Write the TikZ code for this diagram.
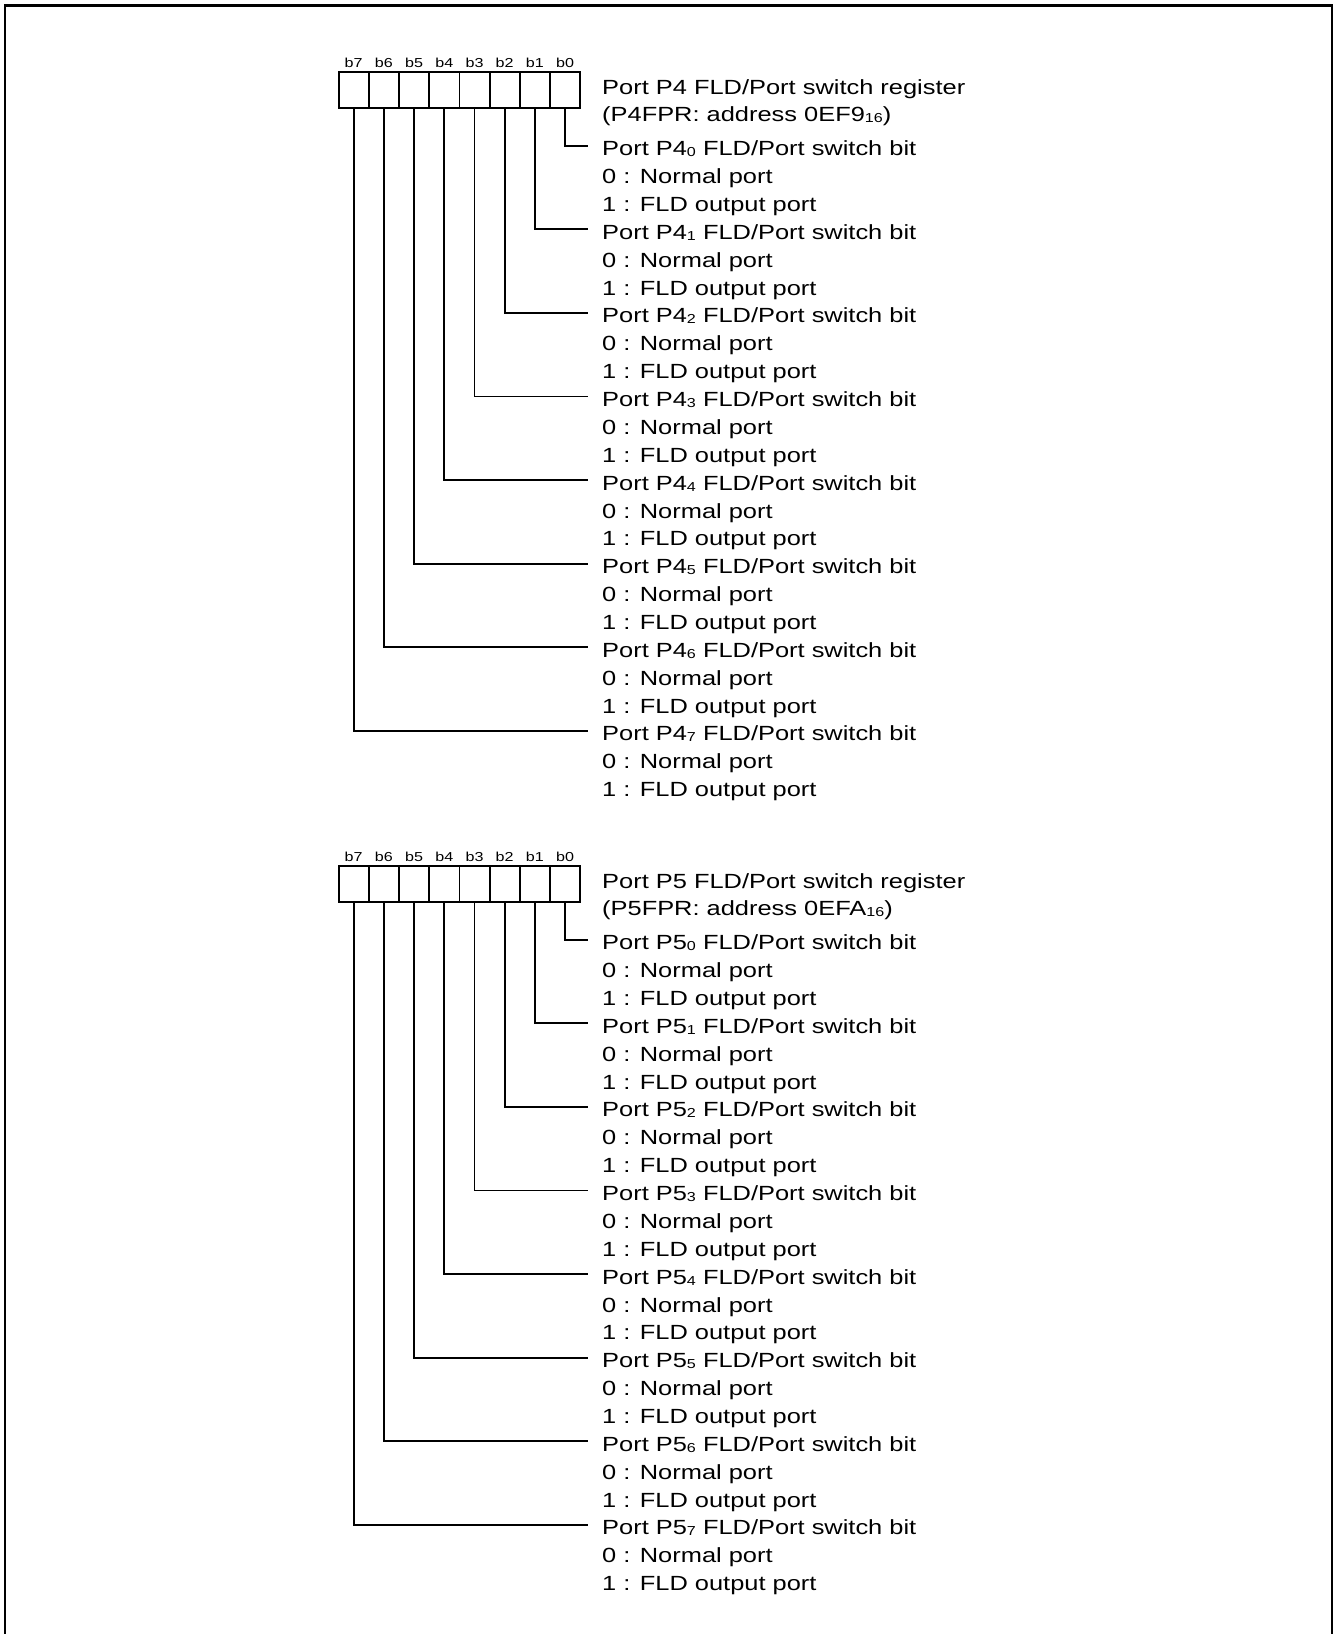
\documentclass[tikz,border=0pt]{standalone}
\usepackage{fontspec}
\setmainfont[FakeStretch=1.24]{Liberation Sans}
\usepackage{tikz}
\usetikzlibrary{
  positioning % 位标签相对定位
}
% 下标（P4_0、0EF9_16）
\newcommand{\sbit}[1]{\raisebox{-1pt}{\fontsize{13}{13}\selectfont #1}}
\tikzset{
  reg cell/.style={
    draw,
    line width=1.8pt,
    minimum width=30.2pt,
    minimum height=36.6pt,
    inner sep=0pt,
    outer sep=0pt
  },
  bit label/.style={
    font=\fontsize{13}{13}\selectfont,
    inner sep=0pt
  },
  reg text/.style={
    anchor=base west,
    inner sep=0pt,
    font=\fontsize{20.5}{24}\selectfont
  },
  bit head/.style={
    reg text,
    inner xsep=14pt,
    text height=20pt,
    text depth=0pt
  },
  bit line/.style={
    line width=1.8pt
  },
  frame line/.style={
    line width=2.5pt
  }
}

\begin{document}
\begin{tikzpicture}[x=1pt, y=-1pt]
    \useasboundingbox (0,0) rectangle (1335,1634);

    % 外框（下边被截去）
    \draw[frame line] (5,1634) -- (5,5.5) -- (1332,5.5) -- (1332,1634);

    % 1. P4FPR 寄存器
    \begin{scope}
      \node[reg text] (ta1) at (602, 94) {Port P4 FLD/Port switch register};
      \node[reg text] (ta2) at (602, 121) {(P4FPR: address 0EF9\sbit{16})};
      \foreach \i in {0,...,7} {
        \node[reg cell] (a\i) at ({565.1-30.2*\i}, 90) {};
        \node[bit label, above=4pt of a\i] (la\i) {b\i};
        \node[bit head] (ha\i) at (588, {155.7+83.6*\i})
          {Port P4\sbit{\i} FLD/Port switch bit};
        \node[reg text] (na\i) at (602, {183.6+83.6*\i}) {0 : Normal port};
        \node[reg text] (fa\i) at (602, {211.5+83.6*\i}) {1 : FLD output port};
        \draw[bit line] (a\i.south) |- (ha\i.west);
      }
    \end{scope}

    % 2. P5FPR 寄存器（向下平移）
    \begin{scope}[shift={(0,794)}]
      \node[reg text] (tb1) at (602, 94) {Port P5 FLD/Port switch register};
      \node[reg text] (tb2) at (602, 121) {(P5FPR: address 0EFA\sbit{16})};
      \foreach \i in {0,...,7} {
        \node[reg cell] (b\i) at ({565.1-30.2*\i}, 90) {};
        \node[bit label, above=4pt of b\i] (lb\i) {b\i};
        \node[bit head] (hb\i) at (588, {155.7+83.6*\i})
          {Port P5\sbit{\i} FLD/Port switch bit};
        \node[reg text] (nb\i) at (602, {183.6+83.6*\i}) {0 : Normal port};
        \node[reg text] (fb\i) at (602, {211.5+83.6*\i}) {1 : FLD output port};
        \draw[bit line] (b\i.south) |- (hb\i.west);
      }
    \end{scope}

\end{tikzpicture}
\end{document}
